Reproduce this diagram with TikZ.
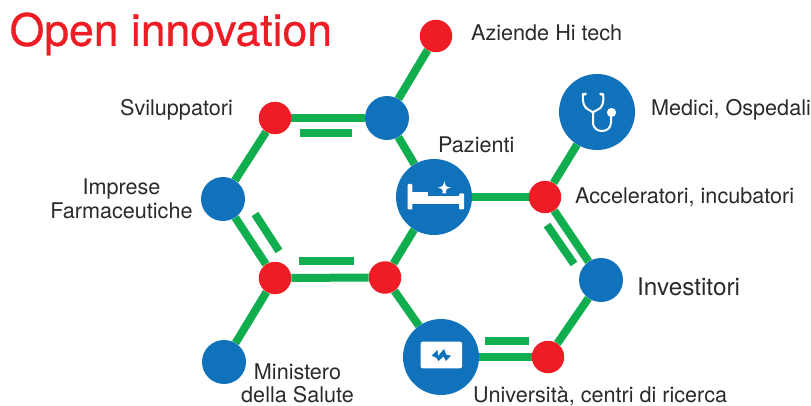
\documentclass[tikz,border=0pt]{standalone}
\usepackage{fontspec}
\setmainfont{TeX Gyre Heros}
\newfontfamily\titlefont[FakeBold=0.7]{TeX Gyre Heros}
\usetikzlibrary{backgrounds}
\definecolor{lnk}{HTML}{10AE4E}
\definecolor{redn}{HTML}{EE1C25}
\definecolor{blun}{HTML}{1172BC}
\definecolor{ink}{HTML}{2A2A2C}
\tikzset{
  reddot/.style={circle,fill=redn,inner sep=0pt,minimum size=32.5pt},
  bluedot/.style={circle,fill=blun,inner sep=0pt,minimum size=44pt},
  bigdot/.style={circle,fill=blun,inner sep=0pt,minimum size=76pt},
  lnkline/.style={draw=lnk,line width=8pt},
  lbl/.style={text=ink,font=\fontsize{21.6}{23.5}\selectfont,inner sep=0pt,align=center},
  icon/.style={fill=white,draw=none},
}
\begin{document}
\begin{tikzpicture}[x=1pt,y=-1pt]
\useasboundingbox (0,0) rectangle (811,406);
\node[reddot] (A) at (436,36) {};
\node[bluedot] (B) at (387,118) {};
\node[reddot] (C) at (275,118) {};
\node[bluedot] (D) at (223,199) {};
\node[reddot] (E) at (275,278) {};
\node[reddot] (F) at (385,277.5) {};
\node[bigdot] (G) at (434,197) {};
\node[reddot] (H) at (545,197) {};
\node[bigdot] (I) at (597,112) {};
\node[bluedot] (J) at (601,280) {};
\node[reddot] (K) at (548,357) {};
\node[bigdot] (L) at (441,357) {};
\node[bluedot] (M) at (224,362) {};
\coordinate (b1a) at (300,133); \coordinate (b1b) at (352,133);
\coordinate (b2a) at (299,261); \coordinate (b2b) at (354,261);
\coordinate (b3a) at (255,214); \coordinate (b3b) at (279,251);
\coordinate (b4a) at (547,225); \coordinate (b4b) at (574,264);
\coordinate (b5a) at (485,341); \coordinate (b5b) at (529,341);
\begin{scope}[on background layer]
\draw[lnkline] (A)--(B);
\draw[lnkline] (B)--(C);
\draw[lnkline] (C)--(D);
\draw[lnkline] (D)--(E);
\draw[lnkline] (E)--(F);
\draw[lnkline] (F)--(G);
\draw[lnkline] (G)--(B);
\draw[lnkline] (G)--(H);
\draw[lnkline] (H)--(I);
\draw[lnkline] (H)--(J);
\draw[lnkline] (J)--(K);
\draw[lnkline] (K)--(L);
\draw[lnkline] (L)--(F);
\draw[lnkline] (E)--(M);
\draw[lnkline] (b1a)--(b1b);
\draw[lnkline] (b2a)--(b2b);
\draw[lnkline] (b3a)--(b3b);
\draw[lnkline] (b4a)--(b4b);
\draw[lnkline] (b5a)--(b5b);
\end{scope}
% bed icon
\fill[icon,rounded corners=1pt] (407.7,184) rectangle (412.3,209.5);
\fill[icon] (412,195.7) rectangle (460,204);
\fill[icon] (412,192.3) rectangle (427.7,196);
\fill[icon,rounded corners=1pt] (459,193.3) rectangle (464,209.5);
\fill[icon] (444.3,181) .. controls (445,186) and (446,187) .. (451,187.7) .. controls (446,188.5) and (445.5,189.5) .. (446.2,193.5) -- (442.4,193.5) .. controls (443,189.5) and (442.5,188.5) .. (437.6,187.7) .. controls (442.5,187) and (443.5,186) .. (444.3,181) -- cycle;
% stethoscope icon
\draw[white,line width=2pt,line cap=round,line join=round] (583,94) .. controls (582,102) and (584,108) .. (589,110) .. controls (591,111) and (593,112) .. (593,113) .. controls (593,112) and (595,111) .. (597,110) .. controls (603,108) and (604,102) .. (603,94);
\draw[white,line width=2pt] (593,112) -- (593,122) .. controls (593,129) and (598,131) .. (602,131) .. controls (607,131) and (611,128) .. (611,122) -- (611,112);
\fill[white] (611.5,112.5) circle (4.6pt);
\draw[white,line width=2.6pt,line cap=round] (583,94.5) -- (585.5,94);
\draw[white,line width=2.6pt,line cap=round] (603,94.5) -- (600.5,94);
% monitor icon
\fill[icon,rounded corners=2pt] (420.7,341.7) rectangle (462,368.3);
\fill[blun] (431.7,355.5) -- (437.5,350) -- (438,356) -- (444,349) -- (446.5,355) -- (451,355.5) -- (446,361) -- (443.5,356.5) -- (438.5,361) -- (436.5,358) -- cycle;
% text
\node[inner sep=0pt,anchor=west,text=redn,font=\titlefont\fontsize{44.5}{48}\selectfont] (title) at (9.5,34) {Open innovation};
\node[lbl,anchor=west] (tA) at (471,33) {Aziende Hi tech};
\node[lbl,anchor=east] (tC) at (233,110) {Sviluppatori};
\node[lbl] (tD) at (121.5,199) {Imprese\\Farmaceutiche};
\node[lbl,anchor=west] (tG) at (438,145) {Pazienti};
\node[lbl,anchor=west] (tI) at (651,110) {Medici, Ospedali};
\node[lbl,anchor=west] (tH) at (575,197) {Acceleratori, incubatori};
\node[lbl,anchor=west,font=\fontsize{24.3}{28}\selectfont] (tJ) at (637,287) {Investitori};
\node[lbl] (tM) at (297.5,383.5) {Ministero\\della Salute};
\node[lbl,anchor=west] (tL) at (473,396.5) {Università, centri di ricerca};
\end{tikzpicture}
\end{document}
